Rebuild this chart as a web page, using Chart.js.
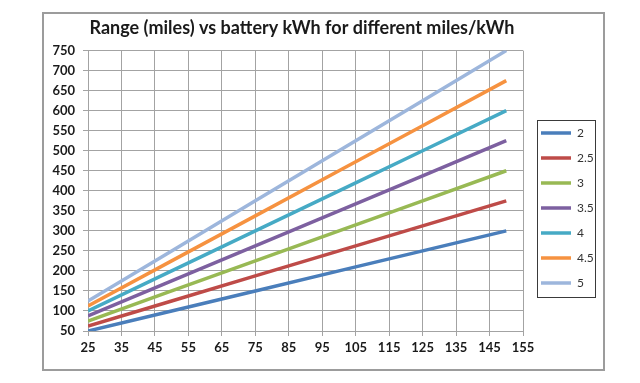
<!DOCTYPE html>
<html>
<head>
<meta charset="utf-8">
<script src="https://cdn.jsdelivr.net/npm/chart.js@4/dist/chart.umd.min.js"></script>
<style>
  html, body { margin: 0; padding: 0; background: #fff; }
  #wrap { width: 640px; height: 383px; }
</style>
</head>
<body>
<div id="wrap"><canvas id="chart"></canvas></div>
<script>
// battery size (kWh) along the x axis
var kwh = [25, 50, 75, 100, 125, 150];

// range (miles) for each miles/kWh figure
var range2 = [50, 100, 150, 200, 250, 300];
var range25 = [62.5, 125, 187.5, 250, 312.5, 375];
var range3 = [75, 150, 225, 300, 375, 450];
var range35 = [87.5, 175, 262.5, 350, 437.5, 525];
var range4 = [100, 200, 300, 400, 500, 600];
var range45 = [112.5, 225, 337.5, 450, 562.5, 675];
var range5 = [125, 250, 375, 500, 625, 750];

var seriesNames = ['2', '2.5', '3', '3.5', '4', '4.5', '5'];
var seriesValues = [range2, range25, range3, range35, range4, range45, range5];
var seriesColors = ['#4a7ebb', '#be4b48', '#98b954', '#7d60a0', '#46aac5', '#f69240', '#9db6dc'];

var xTicks = { min: 25, max: 155, step: 10 };
var yTicks = { min: 50, max: 750, step: 50 };

var FONT = 'Lato, "Open Sans", sans-serif';
var GRID = '#a3a3a3';

var toPoints = values => values.map((v, i) => ({ x: kwh[i], y: v }));

var datasets = seriesNames.map((name, i) => ({
  label: name,
  data: toPoints(seriesValues[i]),
  borderColor: seriesColors[i],
  backgroundColor: seriesColors[i],
  borderWidth: 3.5,
  pointRadius: 0,
  tension: 0,
}));

/** frame round the whole chart and box round the legend */
var framePlugin = {
  id: 'frame',
  beforeDraw(chart) {
    var ctx = chart.ctx;
    ctx.save();
    ctx.fillStyle = '#fff';
    ctx.fillRect(0, 0, chart.width, chart.height);
    ctx.strokeStyle = '#9c9c9c';
    ctx.lineWidth = 2;
    ctx.strokeRect(43, 13, 561, 357);
    ctx.restore();
  },
  afterLayout(chart) {
    // legend sits in its own box right of the plot
    var legend = chart.legend;
    var w = legend.width, h = legend.height;
    legend.left = 528;
    legend.top = 114;
    legend.right = legend.left + w;
    legend.bottom = legend.top + h;

    // title is centred a bit right of the plot centre
    var title = chart.titleBlock;
    if (title) {
      title.left = 86;
      title.right = 518;
    }
  },
  afterDraw(chart) {
    var legend = chart.legend;
    var ctx = chart.ctx;
    ctx.save();
    ctx.strokeStyle = '#3a3a3a';
    ctx.lineWidth = 1;
    ctx.strokeRect(legend.left + 9.5, legend.top + 6.5, 58, 177);
    ctx.restore();
  }
};

new Chart(document.getElementById('chart'), {
  type: 'line',
  data: { datasets: datasets },
  plugins: [framePlugin],
  options: {
    responsive: true,
    maintainAspectRatio: false,
    animation: false,
    layout: { padding: { left: 40, right: 117, top: 8, bottom: 22 } },
    plugins: {
      title: {
        display: true,
        text: 'Range (miles) vs battery kWh for different miles/kWh',
        color: '#1a1a1a',
        font: { family: FONT, size: 18, weight: 'bold' },
        padding: { top: 9, bottom: 12 },
      },
      legend: {
        position: 'chartArea',
        align: 'start',
        labels: {
          usePointStyle: true,
          pointStyle: 'line',
          pointStyleWidth: 30,
          padding: 13,
          color: '#333',
          font: { family: FONT, size: 12 },
        },
      },
      tooltip: { enabled: false },
    },
    scales: {
      x: {
        type: 'linear',
        min: xTicks.min,
        max: xTicks.max,
        afterFit: scale => { scale.height = 30; },
        ticks: {
          stepSize: xTicks.step,
          padding: 4,
          maxRotation: 0,
          color: '#1a1a1a',
          font: { family: FONT, size: 13, weight: 'bold' },
        },
        grid: { color: GRID, tickLength: 5 },
        border: { color: GRID },
      },
      y: {
        min: yTicks.min,
        max: yTicks.max,
        afterFit: scale => { scale.width = 48; },
        ticks: {
          stepSize: yTicks.step,
          padding: 8,
          color: '#1a1a1a',
          font: { family: FONT, size: 13, weight: 'bold' },
        },
        grid: { color: GRID, tickLength: 5 },
        border: { color: GRID },
      },
    },
  },
});
</script>
</body>
</html>
